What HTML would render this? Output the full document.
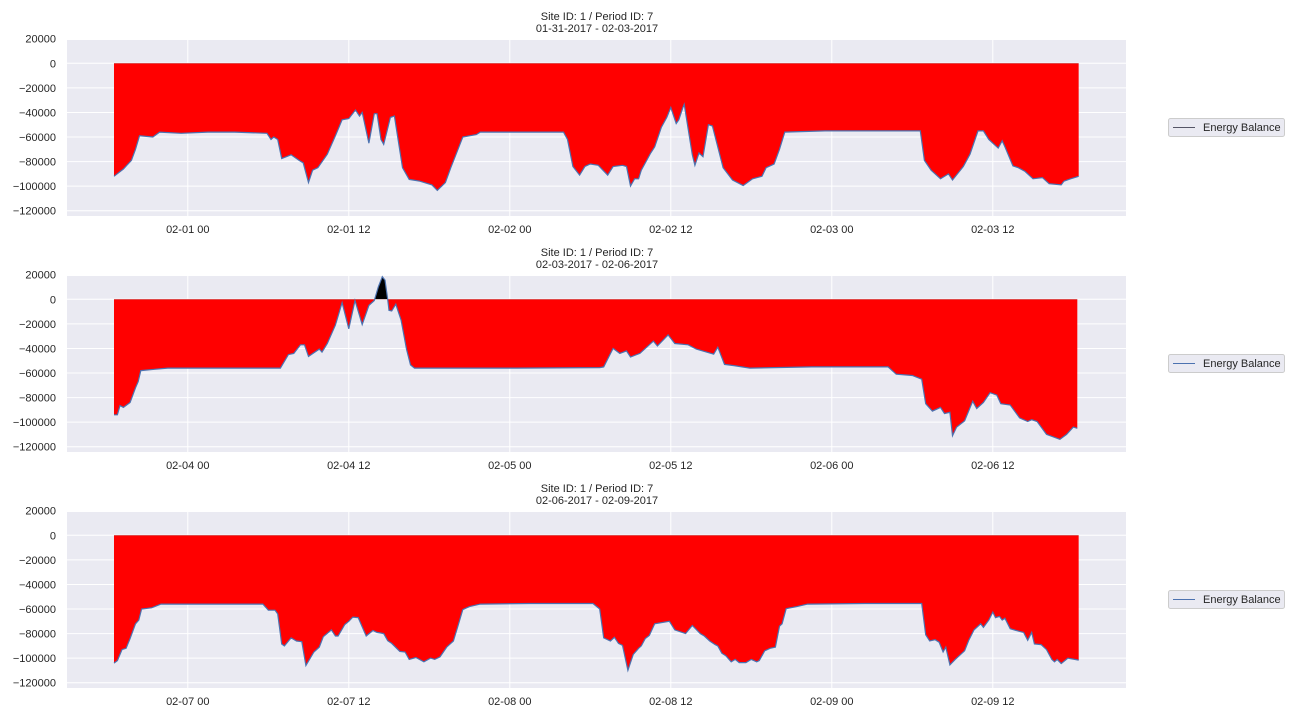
<!DOCTYPE html>
<html><head><meta charset="utf-8"><style>
body{margin:0;background:#fff;}
svg{display:block;font-family:"Liberation Sans",Arial,sans-serif;}
</style></head><body>
<svg id="chart" width="1296" height="720" xmlns="http://www.w3.org/2000/svg"></svg>
<script>
const titles1 = ["Site ID: 1 / Period ID: 7", "Site ID: 1 / Period ID: 7", "Site ID: 1 / Period ID: 7"];
const titles2 = ["01-31-2017 - 02-03-2017", "02-03-2017 - 02-06-2017", "02-06-2017 - 02-09-2017"];
const xTickLabels1 = ["02-01 00","02-01 12","02-02 00","02-02 12","02-03 00","02-03 12"];
const xTickLabels2 = ["02-04 00","02-04 12","02-05 00","02-05 12","02-06 00","02-06 12"];
const xTickLabels3 = ["02-07 00","02-07 12","02-08 00","02-08 12","02-09 00","02-09 12"];
const xTickHours = [5.5, 17.5, 29.5, 41.5, 53.5, 65.5];
const yTicks = [20000, 0, -20000, -40000, -60000, -80000, -100000, -120000];
// hours since panel start, values in thousands
const hours1 = [0,0.7,1.3,1.6,1.9,2.9,3.4,5,7,9,11.4,11.7,11.9,12.2,12.5,13.2,13.8,14.1,14.5,14.8,15.2,15.9,16.5,17.0,17.5,18.0,18.3,18.5,19.0,19.4,19.6,19.9,20.1,20.6,20.9,21.5,22.0,22.8,23.7,24.1,24.7,25.1,25.5,26.0,27.0,27.3,30,33.5,33.8,34.2,34.7,35.1,35.5,36.1,36.8,37.2,37.9,38.2,38.5,38.8,39.1,39.3,40.0,40.3,40.8,41.2,41.5,41.9,42.1,42.4,42.5,43.1,43.3,43.6,43.9,44.3,44.6,45.4,46.1,46.9,47.6,48.3,48.6,49.2,49.6,50.0,53,57,60.1,60.4,60.9,61.6,62.2,62.5,63.3,63.8,64.4,64.8,65.2,65.9,66.2,66.4,67.0,67.4,67.9,68.5,69.2,69.7,70.6,70.8,71.3,71.9];
const vals1 = [-92,-86,-79,-70,-59,-60,-56,-57,-56,-56,-57,-62,-60,-62,-77.5,-74.5,-79,-81,-97,-87,-85,-74,-59,-46,-45,-38,-43,-40,-65,-41,-41,-62,-66,-44,-43,-85,-94.5,-96,-99,-103.5,-97,-85,-74,-60,-58,-56,-56,-56,-62,-84,-91,-84,-82,-83,-91,-84,-83,-84,-100,-94,-94,-87,-73,-68,-52,-44,-36,-49,-46,-36,-33.4,-74.5,-83,-73,-76,-50,-51,-85,-95,-99.5,-94,-92,-85,-82,-70,-56,-55,-55,-55,-79,-87,-94,-90,-95,-84,-74,-55,-55,-62,-69,-63,-68,-83.5,-85,-88,-94,-93,-98,-99,-96,-94,-92];
const hours2 = [0,0.25,0.45,0.7,1.2,1.6,1.8,2.0,3,4,8,12.4,13.0,13.4,13.9,14.2,14.5,15.3,15.5,15.9,16.5,17.0,17.5,17.96,18.5,19.0,19.4,19.7,20.0,20.2,20.4,20.5,20.7,21.0,21.4,21.8,22.1,22.4,26,30,36.2,36.5,37.2,37.7,38.2,38.5,39.2,40.2,40.5,41.3,41.8,42.8,43.4,44.7,45.0,45.5,46.2,47.4,52,57.7,58.3,59.5,60.2,60.5,61.0,61.6,61.9,62.3,62.5,62.8,63.4,64.0,64.3,64.8,65.3,65.8,66.1,66.8,67.5,68.1,68.4,68.8,69.5,70.5,71.0,71.5,71.8];
const vals2 = [-94,-94,-86.5,-88,-84,-72,-67,-58,-57,-56,-56,-56,-45,-44,-37,-37,-46.5,-40.5,-43,-36,-21,-2.7,-24,-1,-20.5,-5,-1,10,18.4,15.6,0,-9,-9.5,-4,-17,-40.5,-53.4,-56,-56,-56,-55.6,-55,-40,-44,-42,-47,-44,-34,-38,-29,-36,-37,-40.5,-44.7,-39,-53,-54,-56,-55,-55,-61,-62,-65,-85,-91,-88,-93,-92,-111,-104,-99,-83,-89,-84,-76,-78,-85,-86,-96.5,-99.5,-98,-99.5,-110,-114,-110,-104,-105];
const hours3 = [0,0.25,0.6,0.9,1.2,1.6,1.85,2.06,2.8,3.5,7,11.1,11.5,12.0,12.2,12.5,12.7,13.2,13.6,14.0,14.3,14.9,15.3,15.6,16.2,16.5,16.7,17.2,17.5,17.8,18.2,18.8,19.3,19.6,20.1,20.4,20.7,21.3,21.7,22.0,22.5,23.1,23.6,23.9,24.3,24.8,25.3,25.6,26.0,26.5,27.3,31,35.7,36.2,36.5,37.0,37.3,37.6,37.9,38.3,38.7,39.1,39.3,39.6,39.9,40.3,41.4,41.8,42.6,43.1,43.7,44.0,44.4,44.8,45.0,45.3,45.6,46.0,46.3,46.6,47.1,47.5,47.9,48.1,48.5,48.9,49.3,49.6,49.8,50.1,50.9,51.7,56,60.2,60.5,60.8,61.2,61.5,61.8,62.0,62.3,62.7,63.4,63.7,64.1,64.6,64.8,65.2,65.5,65.7,66.0,66.2,66.4,66.8,67.4,67.8,68.1,68.4,68.6,69.1,69.5,69.9,70.1,70.3,70.6,71.1,71.9];
const vals3 = [-104,-102,-93,-92,-84,-72,-69,-60,-59,-56,-56,-56,-61,-61,-64,-88.5,-90,-83.5,-86,-86.6,-106,-95,-91,-82.5,-77,-82,-82,-72.6,-70,-66.6,-67,-82,-77.5,-79,-80,-85.8,-88,-94.5,-95,-101,-99.5,-103,-100,-101,-99,-91,-86,-75,-60.5,-58,-56,-55.5,-55.5,-60,-83.5,-86,-83,-88,-89.6,-110,-97,-92,-90,-84,-81.6,-72,-70,-77,-80,-73.4,-80,-82,-86,-89,-90,-96,-98,-103,-101,-103.6,-103.6,-101,-103,-102,-94,-92,-91,-74,-72,-59.7,-58,-56,-55.5,-55.5,-81,-86,-85,-87,-95,-91,-105.5,-101,-94,-85.7,-77,-72,-75,-69,-62.5,-67,-66,-69,-67.5,-76,-78,-79,-85.5,-79,-88.5,-89,-93,-101,-103,-101,-104.4,-100,-101.6];

const NS = "http://www.w3.org/2000/svg";
const svg = document.getElementById("chart");
function mk(tag, attrs, parent){const e=document.createElementNS(NS,tag);for(const k in attrs)e.setAttribute(k,attrs[k]);(parent||svg).appendChild(e);return e;}

const AX_L = 67, AX_R = 1126, AX_H = 176;
const tops = [40, 276, 512];
const panels = [[hours1, vals1, xTickLabels1], [hours2, vals2, xTickLabels2], [hours3, vals3, xTickLabels3]];
const legendColors = ["#555566", "#4c72b0", "#4c72b0"];
const xScale = h => 114 + h * 161 / 12;

panels.forEach((p, i) => {
  const top = tops[i];
  const zeroY = top + 23.3;
  const yScale = v => zeroY - v / 20000 * 24.57;
  const g = mk("g", {});
  
  
  const bg = mk("rect", {x: AX_L, y: top, width: AX_R - AX_L, height: AX_H, fill: "#eaeaf2"}, g);
  
  
  yTicks.forEach(t => {
    const y = yScale(t);
    if (y >= top - 0.5) {
      const ln = mk("line", {x1: AX_L, x2: AX_R, y1: y, y2: y, stroke: "#fff", "stroke-width": 1}, g);
      
      
    }
    const tx = mk("text", {x: 56, y: y + 4, "text-anchor": "end", "font-size": 11, fill: "#262626"}, g);
    tx.textContent = String(t).replace("-", "\u2212");
    
    
  });
  xTickHours.forEach((h, k) => {
    const x = xScale(h);
    const ln = mk("line", {x1: x, x2: x, y1: top, y2: top + AX_H, stroke: "#fff", "stroke-width": 1}, g);
    
    
    const tx = mk("text", {x: x, y: top + AX_H + 17, "text-anchor": "middle", "font-size": 11, fill: "#262626"}, g);
    tx.textContent = p[2][k];
    
    
  });
  const hs = p[0], vs = p[1];
  let pts = hs.map((h, k) => xScale(h).toFixed(1) + "," + yScale(vs[k] * 1000).toFixed(1));
  const poly = "M" + xScale(hs[0]) + "," + zeroY + " L" + pts.join(" L") + " L" + xScale(hs[hs.length - 1]) + "," + zeroY + " Z";
  const cpA = mk("clipPath", {id: "above" + i}, g);
  mk("rect", {x: AX_L, y: top - 20, width: AX_R - AX_L, height: zeroY - top + 20}, cpA);
  const cpB = mk("clipPath", {id: "below" + i}, g);
  mk("rect", {x: AX_L, y: zeroY, width: AX_R - AX_L, height: AX_H}, cpB);
  const fb = mk("path", {d: poly, fill: "#ff0000", "clip-path": "url(#below" + i + ")"}, g);
  
  
  const fa = mk("path", {d: poly, fill: "#000000", "clip-path": "url(#above" + i + ")"}, g);
  
  
  const line = mk("polyline", {points: pts.join(" "), fill: "none", stroke: "#4c72b0", "stroke-width": 1.2}, g);
  
  
  const t1 = mk("text", {x: 597, y: top - 20, "text-anchor": "middle", "font-size": 11, fill: "#262626"}, g);
  t1.textContent = titles1[i];
  
  
  const t2 = mk("text", {x: 597, y: top - 8, "text-anchor": "middle", "font-size": 11, fill: "#262626"}, g);
  t2.textContent = titles2[i];
  
  
  const lg = mk("g", {}, g);
  
  
  const ly = top + 78;
  mk("rect", {x: 1168.5, y: ly + 0.5, width: 116, height: 18, rx: 2, fill: "#eaeaf2", stroke: "#cccccc"}, lg);
  const ll = mk("line", {x1: 1173, x2: 1195, y1: ly + 9.5, y2: ly + 9.5, stroke: legendColors[i], "stroke-width": 1}, lg);
  
  
  const lt = mk("text", {x: 1203, y: ly + 13, "font-size": 11, fill: "#262626"}, lg);
  lt.textContent = "Energy Balance";
  
  
});
</script>
</body></html>
